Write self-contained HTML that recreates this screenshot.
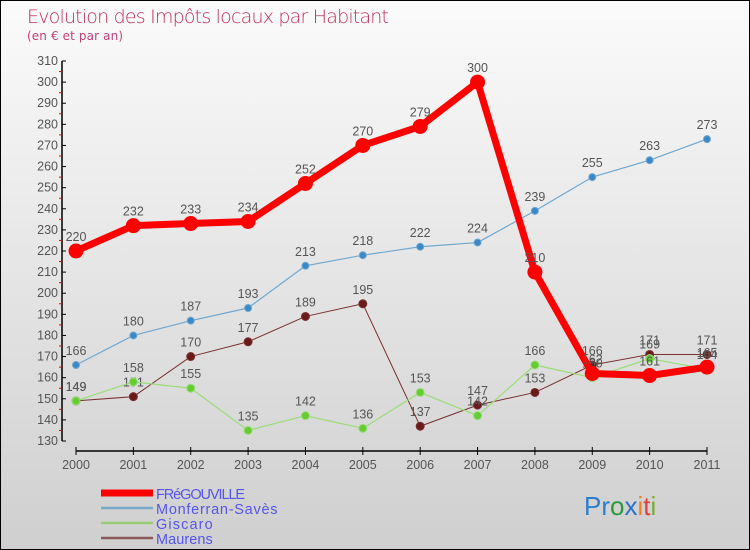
<!DOCTYPE html>
<html><head><meta charset="utf-8"><style>
body{margin:0}
#c{width:750px;height:550px;position:relative;box-sizing:border-box;border:1px solid #000;background:linear-gradient(#fbfbfb,#cfcfcf);overflow:hidden;font-family:"Liberation Sans",sans-serif}
</style></head><body>
<div id="c">
<svg id="s" width="750" height="550" style="position:absolute;left:0;top:0">
<text x="26" y="22" font-size="19" fill="#c0305a" font-family="DejaVu Sans" font-weight="200" textLength="362">Evolution des Impôts locaux par Habitant</text>
<text x="26" y="39" font-size="12" fill="#c0407a" font-family="DejaVu Sans" textLength="96">(en € et par an)</text>
</svg>
</div>
<script>
const years=["2000","2001","2002","2003","2004","2005","2006","2007","2008","2009","2010","2011"];
const fregouville=[220,232,233,234,252,270,279,300,210,162,161,165];
const monferran=[166,180,187,193,213,218,222,224,239,255,263,273];
const giscaro=[149,158,155,135,142,136,153,142,166,160,169,164];
const maurens=[149,151,170,177,189,195,137,147,153,166,171,171];
const yTicks=[130,140,150,160,170,180,190,200,210,220,230,240,250,260,270,280,290,300,310];
const NS="http://www.w3.org/2000/svg";
const s=document.getElementById('s');
const X=i=>75+i*(631/11);
const Y=v=>440-(v-130)*(380/180);
function el(t,a,p){const e=document.createElementNS(NS,t);for(const k in a)e.setAttribute(k,a[k]);(p||s).appendChild(e);return e;}
const ax=el('g',{});


el('line',{x1:61,y1:60,x2:61,y2:440,stroke:'#000','stroke-width':1.5},ax);
el('line',{x1:75,y1:450,x2:706,y2:450,stroke:'#000','stroke-width':1.5},ax);
yTicks.forEach((v,i)=>{
 el('line',{x1:61,y1:Y(v),x2:65,y2:Y(v),stroke:'#000'},ax);
 if(i<yTicks.length-1)el('line',{x1:58,y1:Y(v+5),x2:61,y2:Y(v+5),stroke:'#e00'},ax);
 const t=el('text',{x:57,y:Y(v)+4,'text-anchor':'end','font-size':12.5,fill:'#555'},ax);
 t.textContent=v;
 
 
});
years.forEach((y,i)=>{
 el('line',{x1:X(i),y1:446,x2:X(i),y2:454,stroke:'#000'},ax);
 const t=el('text',{x:X(i),y:468,'text-anchor':'middle','font-size':12.5,fill:'#555'},ax);
 t.textContent=y;
 
 
});
function series(name,data,color,w,r,dot){
 const g=el('g',{});
 
 
 el('polyline',{points:data.map((v,i)=>X(i)+','+Y(v)).join(' '),fill:'none',stroke:color,'stroke-width':w,'stroke-linejoin':'round'},g);
 data.forEach((v,i)=>{
  const c=el('circle',{cx:X(i),cy:Y(v),r:r,fill:dot,stroke:color,'stroke-width':1},g);
  
  
  const t=el('text',{x:X(i),y:Y(v)-10,'text-anchor':'middle','font-size':12.5,fill:'#555'},g);
  t.textContent=v;
  
  
 });
}
series('maurens',maurens,'#7a3030',1,4,'#6a1a1a');
series('giscaro',giscaro,'#99dd77',1.2,4,'#66cc33');
series('monferran',monferran,'#6fa8d0',1.2,3.5,'#3a88c8');
series('fregouville',fregouville,'#f00',7,7,'#f00');
const lg=[['FRéGOUVILLE','#f00',7],['Monferran-Savès','#7aa8c8',2.5],['Giscaro','#99cc77',2.5],['Maurens','#8a5a5a',2.5]];
lg.forEach((l,i)=>{
 const g=el('g',{});
 
 
 const y=492+i*15;
 el('line',{x1:100,y1:y,x2:152,y2:y,stroke:l[1],'stroke-width':l[2]},g);
 const t=el('text',{x:155,y:y+6,'font-size':14.5,fill:'#5555ee','textLength':l[0].length*8.1},g);
 t.textContent=l[0];
});
const p=el('text',{x:583,y:514,'font-size':26});


[['Pr','#2a7fd0'],['o','#2a9a3a'],['x','#2a70d0'],['i','#f08020'],['t','#e04040'],['i','#70b030']].forEach(a=>{const ts=el('tspan',{fill:a[1]},p);ts.textContent=a[0];});
</script>
</body></html>
